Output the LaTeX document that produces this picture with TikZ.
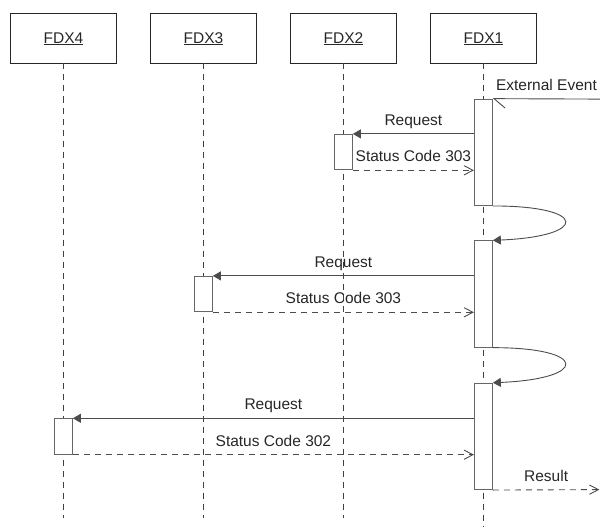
\documentclass[tikz,border=0pt]{standalone}
\usepackage{fontspec}
\setmainfont{Liberation Sans}
\usetikzlibrary{arrows.meta}
\newcommand\ulabel[1]{\setbox0=\hbox{#1}\rlap{\rule[-1.8pt]{\wd0}{1.1pt}}\box0}
\begin{document}
\begin{tikzpicture}[x=1pt,y=-1pt,
  font=\fontsize{15.5}{18}\selectfont,
  head/.style={draw=black!85, line width=0.9pt, minimum width=106.4pt, minimum height=49.7pt, inner sep=0pt, text depth=0pt, text=black!85},
  act/.style={draw=black!60, fill=white, line width=0.9pt, minimum width=18pt, inner sep=0pt},
  big/.style={act, minimum height=106.4pt},
  small/.style={act, minimum height=35.5pt},
  life/.style={draw=black!75, line width=0.9pt, dash pattern=on 6pt off 5pt},
  req/.style={draw=black!70, line width=0.9pt, -{Triangle[length=8pt,width=9pt]}},
  rep/.style={draw=black!70, line width=0.9pt, dash pattern=on 6pt off 5pt, -{Straight Barb[length=9pt,width=9.3pt]}},
  lbl/.style={midway, anchor=base, yshift=8.5pt, text=black!85, inner sep=0pt}
]
\useasboundingbox (0,0) rectangle (600,527);
% headers
\node[head] (H4) at (63.4,38.2) {\ulabel{FDX4}};
\node[head] (H3) at (203.4,38.2) {\ulabel{FDX3}};
\node[head] (H2) at (343.4,38.2) {\ulabel{FDX2}};
\node[head] (H1) at (483.4,38.2) {\ulabel{FDX1}};
% lifeline ends
\coordinate (e4) at (63.4,518);
\coordinate (e3) at (203.4,518);
\coordinate (e2) at (343.4,518);
\coordinate (e1) at (483.4,527);
\draw[life] (H4.south) -- (e4);
\draw[life] (H3.south) -- (e3);
\draw[life] (H2.south) -- (e2);
\draw[life] (H1.south) -- (e1);
% activations
\node[big] (A1) at (483.4,152.3) {};
\node[small] (A2) at (343.4,152.1) {};
\node[big] (B1) at (483.4,294) {};
\node[small] (B2) at (203.4,294.1) {};
\node[big] (C1) at (483.4,436.4) {};
\node[small] (C2) at (63.4,436.5) {};
% external event
\coordinate (ext) at (600,99.1);
\draw[draw=black!70, line width=0.9pt, -{Straight Barb[harpoon, length=11pt, width=18.6pt]}] (ext) -- node[lbl] {External Event} (A1.north east);
% first exchange
\draw[req] (A1.west |- A2.north east) -- node[lbl] {Request} (A2.north east);
\draw[rep] (A2.south east) -- node[lbl] {Status Code 303} (A1.west |- A2.south east);
\draw[req] (A1.south east) .. controls +(96,0) and +(96,-4) .. (B1.north east);
% second exchange
\draw[req] (B1.west |- B2.north east) -- node[lbl] {Request} (B2.north east);
\draw[rep] (B2.south east) -- node[lbl] {Status Code 303} (B1.west |- B2.south east);
\draw[req] (B1.south east) .. controls +(96,0) and +(96,-4) .. (C1.north east);
% third exchange
\draw[req] (C1.west |- C2.north east) -- node[lbl] {Request} (C2.north east);
\draw[rep] (C2.south east) -- node[lbl] {Status Code 302} (C1.west |- C2.south east);
% result
\coordinate (res) at (599.4,489.6);
\draw[rep] (C1.south east) -- node[lbl] {Result} (res);
\end{tikzpicture}
\end{document}
